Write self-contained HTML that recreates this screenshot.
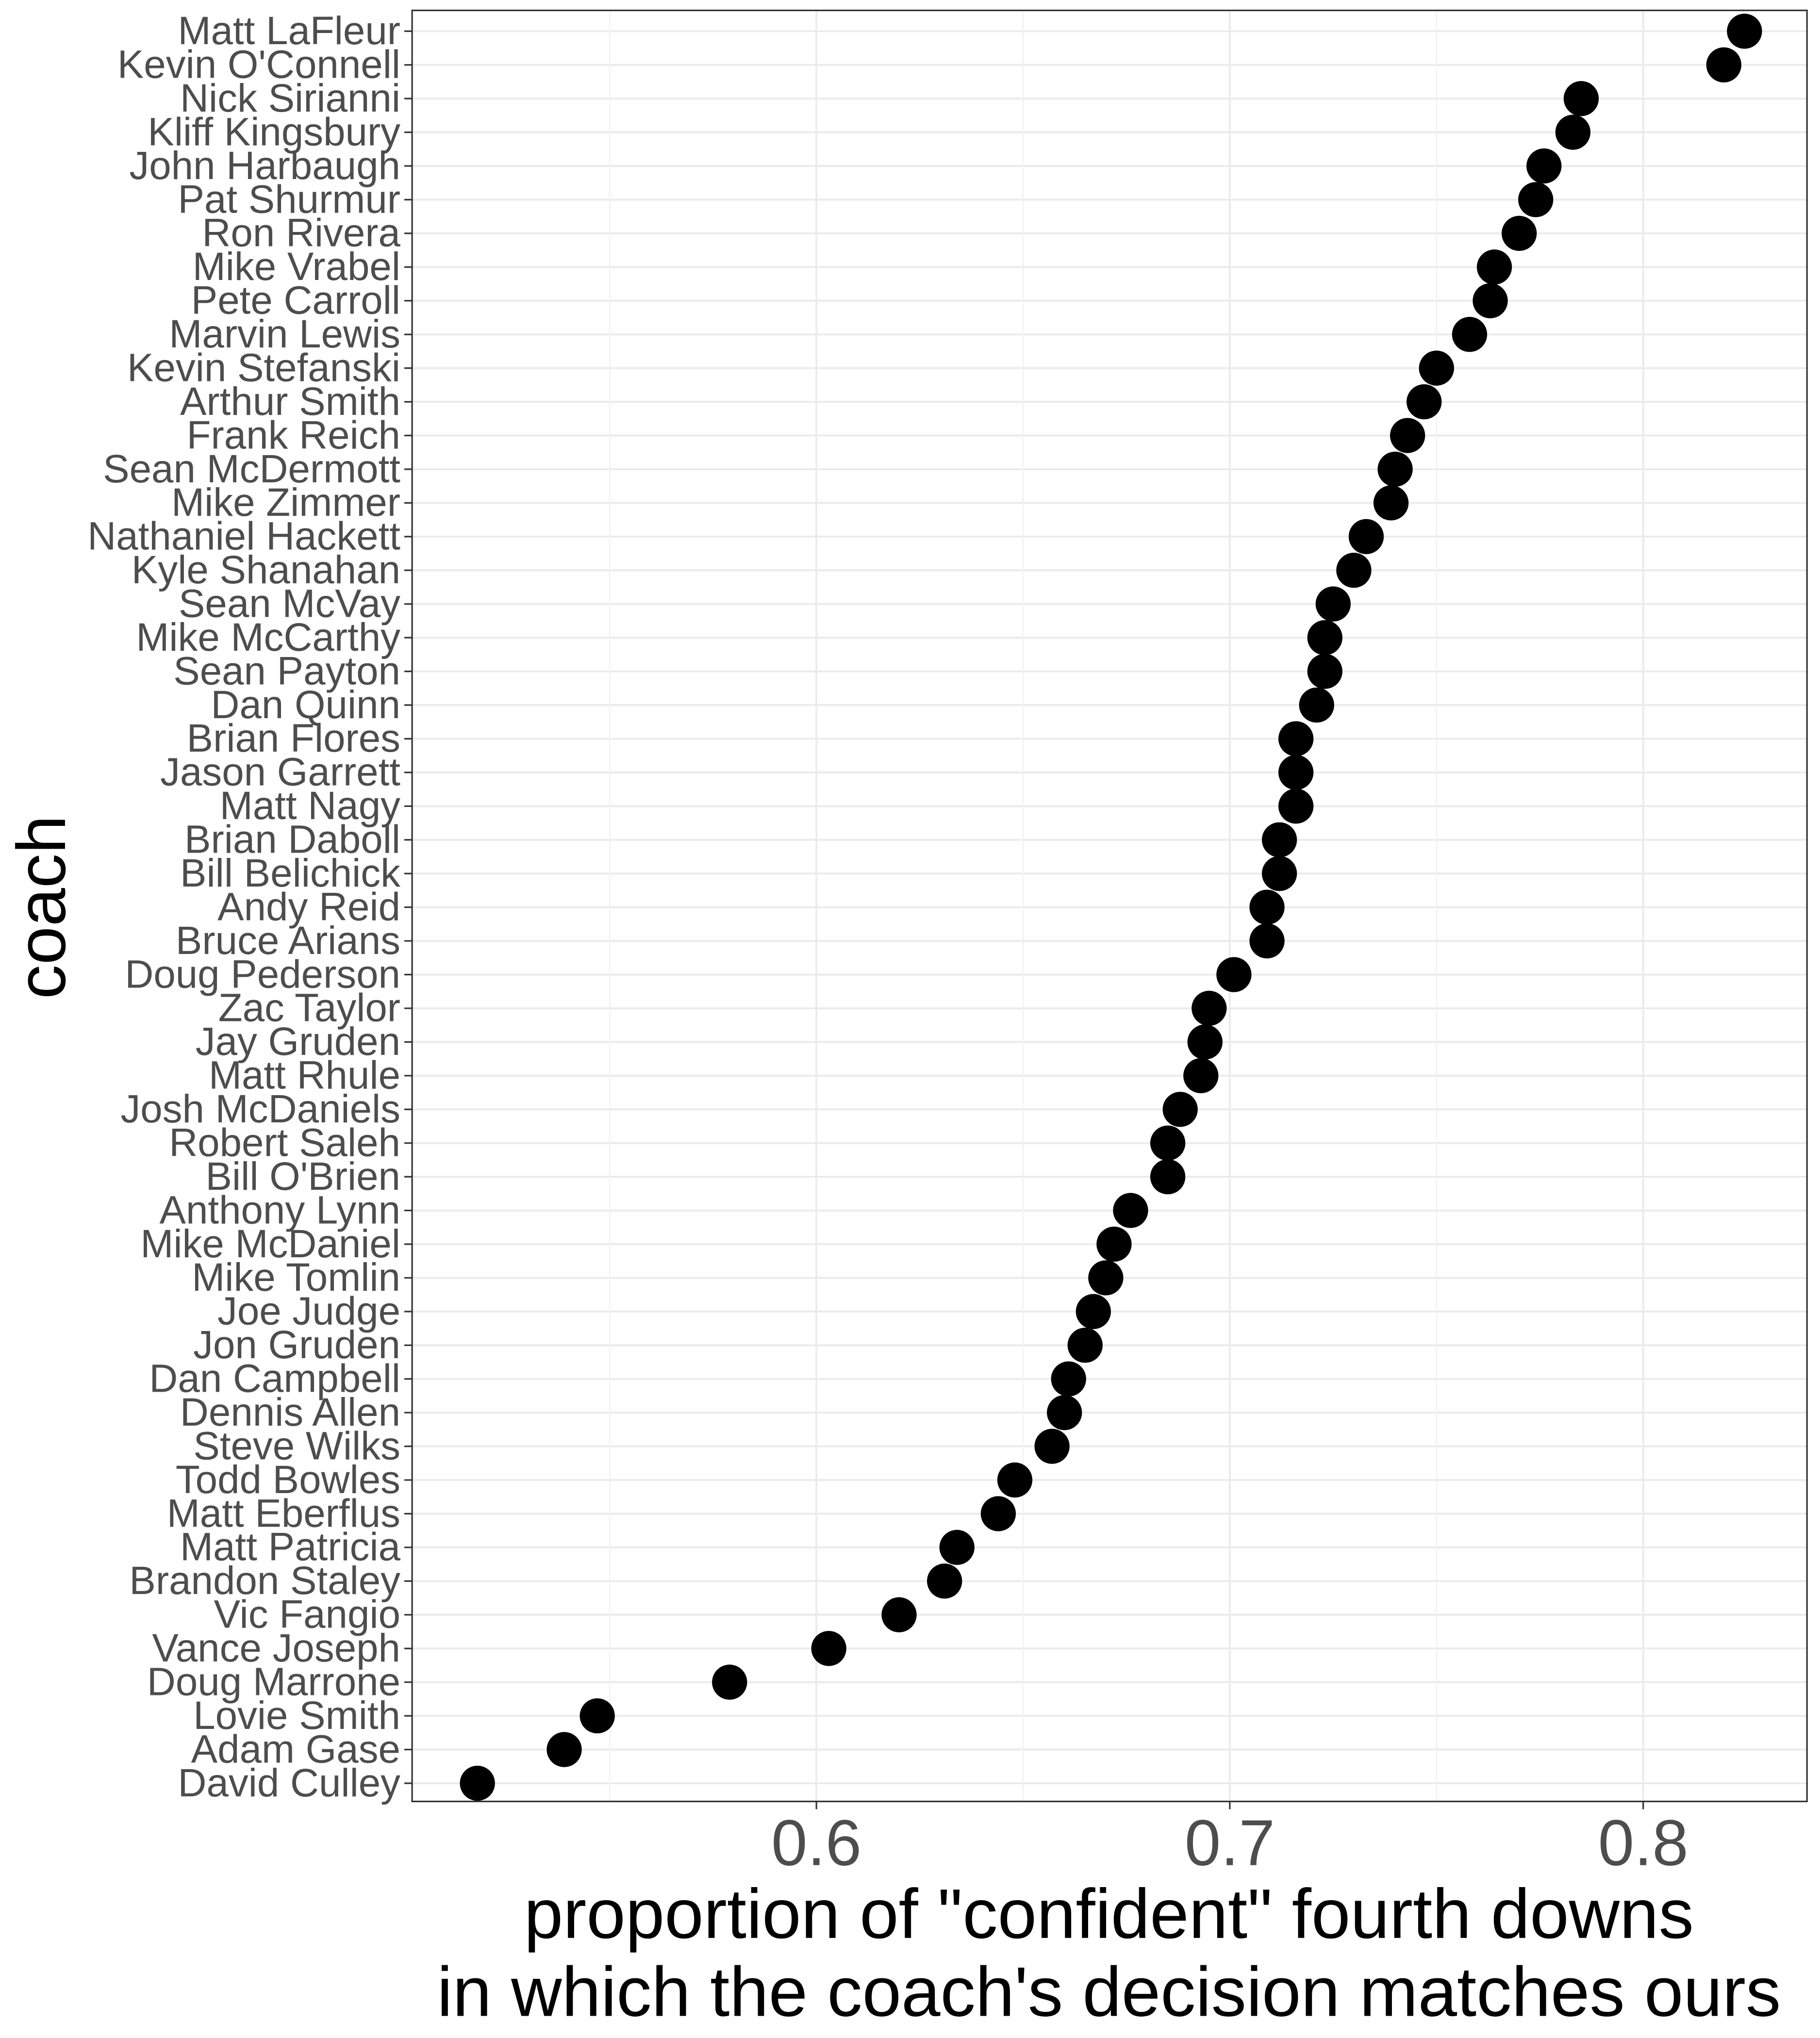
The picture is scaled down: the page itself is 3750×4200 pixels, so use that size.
<!DOCTYPE html>
<html><head><meta charset="utf-8"><style>html,body{margin:0;padding:0;background:#fff}svg{display:block}</style></head>
<body>
<svg id="chart" xmlns="http://www.w3.org/2000/svg" width="3750" height="4200" viewBox="0 0 1400 1568" font-family="Liberation Sans, sans-serif">
<rect width="1400" height="1568" fill="#fff"/>
<g id="grid"></g>
<g id="ylabels"></g>
<g id="xticks"></g>
<g id="points"></g>
<rect x="317" y="8" width="1073" height="1378" fill="none" stroke="#333" stroke-width="1.2"/>
<text transform="translate(50,698) rotate(-90)" text-anchor="middle" font-size="53" fill="#000">coach</text>
<text x="853" y="1491" text-anchor="middle" font-size="54" fill="#000">proportion of "confident" fourth downs</text>
<text x="853" y="1551" text-anchor="middle" font-size="54" fill="#000">in which the coach's decision matches ours</text>
</svg>
<script>
const coaches=["Matt LaFleur","Kevin O'Connell","Nick Sirianni","Kliff Kingsbury","John Harbaugh","Pat Shurmur","Ron Rivera","Mike Vrabel","Pete Carroll","Marvin Lewis","Kevin Stefanski","Arthur Smith","Frank Reich","Sean McDermott","Mike Zimmer","Nathaniel Hackett","Kyle Shanahan","Sean McVay","Mike McCarthy","Sean Payton","Dan Quinn","Brian Flores","Jason Garrett","Matt Nagy","Brian Daboll","Bill Belichick","Andy Reid","Bruce Arians","Doug Pederson","Zac Taylor","Jay Gruden","Matt Rhule","Josh McDaniels","Robert Saleh","Bill O'Brien","Anthony Lynn","Mike McDaniel","Mike Tomlin","Joe Judge","Jon Gruden","Dan Campbell","Dennis Allen","Steve Wilks","Todd Bowles","Matt Eberflus","Matt Patricia","Brandon Staley","Vic Fangio","Vance Joseph","Doug Marrone","Lovie Smith","Adam Gase","David Culley"];
const values=[0.8245,0.8195,0.785,0.783,0.776,0.774,0.770,0.764,0.763,0.758,0.750,0.747,0.743,0.740,0.739,0.733,0.730,0.725,0.723,0.723,0.721,0.716,0.716,0.716,0.712,0.712,0.709,0.709,0.701,0.695,0.694,0.693,0.688,0.685,0.685,0.676,0.672,0.670,0.667,0.665,0.661,0.660,0.657,0.648,0.644,0.634,0.631,0.620,0.603,0.579,0.547,0.539,0.518];
const majorTicks=[0.6,0.7,0.8];
const minorTicks=[0.55,0.65,0.75];
const tickLabels=["0.6","0.7","0.8"];
const NS="http://www.w3.org/2000/svg";
const x=v=>628+(v-0.6)*3180;
const y=i=>24+i*(1348/(coaches.length-1));
function mk(tag,attrs,parent){const e=document.createElementNS(NS,tag);for(const k in attrs)e.setAttribute(k,attrs[k]);document.getElementById(parent).appendChild(e);return e;}
coaches.forEach((c,i)=>{
 const g=mk('line',{x1:317,x2:1390,y1:y(i),y2:y(i),stroke:'#ebebeb','stroke-width':1.5},'grid');
 
 
 const tk=mk('line',{x1:311,x2:317,y1:y(i),y2:y(i),stroke:'#333','stroke-width':1.2},'ylabels');
 
 
 const t=mk('text',{x:308,y:y(i)+10,'text-anchor':'end','font-size':30.5,fill:'#4d4d4d'},'ylabels');
 t.textContent=c;
 
 
});
minorTicks.forEach(v=>{
 const g=mk('line',{x1:x(v),x2:x(v),y1:8,y2:1386,stroke:'#f2f2f2','stroke-width':1},'grid');
 
 
});
majorTicks.forEach((v,i)=>{
 const g=mk('line',{x1:x(v),x2:x(v),y1:8,y2:1386,stroke:'#ebebeb','stroke-width':1.5},'grid');
 
 
 const tk=mk('line',{x1:x(v),x2:x(v),y1:1386,y2:1392,stroke:'#333','stroke-width':1.2},'xticks');
 
 
 const t=mk('text',{x:x(v),y:1435,'text-anchor':'middle','font-size':50,fill:'#4d4d4d'},'xticks');
 t.textContent=tickLabels[i];
 
 
});
values.forEach((v,i)=>{
 const p=mk('circle',{cx:x(v),cy:y(i),r:13.5,fill:'#000'},'points');
 
 
});
</script>
</body></html>
